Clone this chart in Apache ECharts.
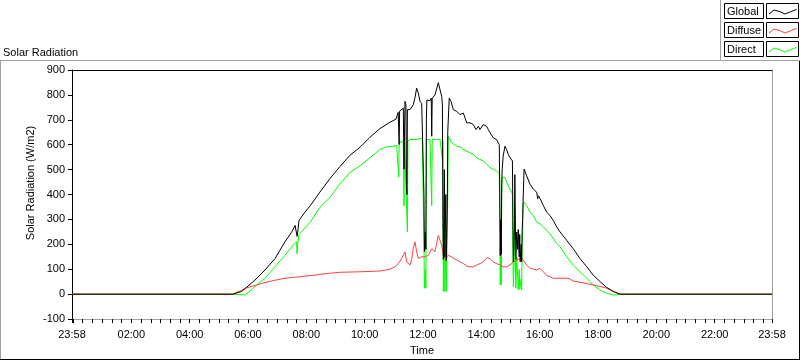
<!DOCTYPE html>
<html><head><meta charset="utf-8">
<script src="https://cdn.jsdelivr.net/npm/echarts@6/dist/echarts.min.js"></script>
<style>html,body{margin:0;padding:0;background:#fff}#c{width:800px;height:361px}</style>
</head><body><div id="c"></div>
<script>
// ---- data (time in minutes since midnight, value in W/m2) ----
const chartTitle = 'Solar Radiation';
const yAxisTitle = 'Solar Radiation (W/m2)';
const xAxisTitle = 'Time';
const seriesNames = ['Global', 'Diffuse', 'Direct'];
const seriesColors = ['#000000', '#ff4040', '#00ff00'];
const xLabelMinutes = [-2, 120, 240, 360, 480, 600, 720, 840, 960, 1080, 1200, 1320, 1438];
const yMin = -100, yMax = 900, yStep = 100;

const globalTime = [-2,329,347,355,374.5,395,415.6,436,450,457,460,461,463,465,467,477,488,498,508,529,549,570,590.5,611,631.6,652,664.6,669,670,671,672,676,679.5,681,683,685,686,687,688,690,693.3,700,703.6,707,710,714,717.4,720,722,723,725,726,727,728,731,734.4,737,738,739,744.7,748,751.5,755,758.5,760,761,762,764,765,767,768,770,771,774,777.6,782.4,789.4,796,803,806.4,810,816.7,823.5,829,834,837.3,844,851,854.5,858,864.5,871.4,874.7,877,878,879,880,881,882,883,885,888.7,892,895.5,899,902.5,904,905,906,908,909,910,911,913,915,916,918,919,920,922,923,924,925,926,928,929,933.4,940,947,954,956,957.5,960.7,967.6,974.5,981.3,988,995,1002,1015.7,1029,1043,1057,1070,1084,1098,1111.5,1125,1438];
const globalVal = [0,0,11,24,57,97,143,210,250,276,270,232,260,296,303,329,355,382,410,465,512,558,590,630,665,690,703,730,730,601,735,741,747,502,774,760,435,400,741,741,741,760,790,827,810,774,765,760,400,171,250,180,700,780,780,776,787,634,787,800,807,849,845,794,760,300,140,500,150,400,135,350,650,787,774,741,734,721,727,708,688,688,681,661,674,661,681,674,661,648,628,621,614,600,400,155,300,160,450,500,555,594,581,561,548,541,535,300,130,250,480,300,140,250,180,260,150,240,130,200,130,250,300,382,502,508,475,442,422,409,382,395,385,356,329,316,296,270,250,216,183,143,110,77,51,27,11,0,0];

const diffuseTime = [-2,329,345,355,374.5,395,415.6,436,455.5,467,477,498,508,549,590.5,631.6,652,662.4,670.7,672.7,676,679.5,683,686.5,690,693.3,697,700,703.6,707,710.5,714,717.4,721,724,727.7,731,734.4,738,741.6,744.7,748,751.5,755,758.5,762,765.3,769,772,775.6,779,782.4,789.4,796,803,810,816.7,823.5,830.5,837.3,844,851,854.5,858,864.5,871.4,878.4,885,892,899,906,912.8,919.6,926.4,933.4,940,947,954,960.7,967.6,974.5,981.3,988,1002,1015.7,1022.4,1029,1043,1063.6,1084,1098,1111.5,1125,1438];
const diffuseVal = [0,0,14,24,35,47,56,64,68,70,73,76,80,88,90,93,100,110,126,123,143,143,170,130,123,117,143,183,210,170,143,137,150,143,150,143,156,163,183,176,170,203,236,216,196,156,143,150,156,163,150,143,137,130,123,112,110,110,117,123,130,146,150,143,130,123,117,110,110,117,130,137,143,137,117,104,101,97,104,90,75,70,64,64,64,61,53,48,40,31,24,11,0,0];

const directTime = [-2,329,333,355,357,374.5,395,415.6,436,455.5,460,461,462,465,467,488,508,529,549,570,590.5,611,631.6,645.5,652,666,669,670,671,672.7,679.5,681,682,686,688,689,690,693.3,700,707,714,718.6,721,722,723,725,726,727,727.7,731,734.4,737,738,739,741.6,748,755,758.5,759,760,761,762,764,765,767,768,770,771,772,775.6,779,782.4,789.4,796,803,806.4,816.7,823.5,827,830.5,837.3,844,851,858,864.5,871.4,874.7,877,878,879,880,881,882,883,885,888.7,892,899,902.5,904,905,906,908,909,910,911,913,915,916,918,919,920,922,923,924,925,926,928,933.4,940,947,954,960.7,967.6,974.5,981.3,995,1002,1015.7,1029,1043,1057,1070,1084,1098,1111.5,1118,1125,1438];
const directVal = [0,0,-3,-3,4,31,64,110,156,203,210,163,200,240,232,289,349,389,442,489,515,548,581,592,592,597,597,470,600,610,614,354,614,614,250,614,614,621,621,621,624,628,628,200,24,100,24,620,628,614,621,621,356,621,621,621,621,614,614,540,614,11,300,11,200,11,11,400,634,621,608,601,594,592,581,575,568,561,555,548,541,535,521,508,502,495,489,485,300,37,200,37,400,470,462,469,449,422,409,400,150,30,150,350,150,24,150,60,17,100,20,17,60,17,200,250,350,370,356,329,316,289,283,270,256,243,203,190,150,117,90,64,37,17,4,-3,-3,0,0];

// ---- chart ----
const FONT = 'Liberation Sans';
function pairs(t, v) { return t.map((x, i) => [x, v[i]]); }
function fmtTime(v) {
  if (v === -2 || v === 1438) return '23:58';
  const h = Math.floor(v / 60), m = v % 60;
  return String(h).padStart(2, '0') + ':' + String(m).padStart(2, '0');
}
const tickMinutes = [-2];
for (let m = 0; m <= 1420; m += 20) tickMinutes.push(m);
tickMinutes.push(1438);

const seriesData = [pairs(globalTime, globalVal), pairs(diffuseTime, diffuseVal), pairs(directTime, directVal)];
const drawOrder = [2, 1, 0];

const legendGraphics = [];
seriesNames.forEach((name, i) => {
  const y = 3 + 19 * i;
  legendGraphics.push({type: 'rect', shape: {x: 724.5, y: y + 0.5, width: 39, height: 15},
    style: {fill: '#fff', stroke: '#000', lineWidth: 1}, z: 10});
  legendGraphics.push({type: 'text', x: 727, y: y + 8.5,
    style: {text: name, fill: '#000', font: '11px "' + FONT + '"', verticalAlign: 'middle', align: 'left'}, z: 11});
  legendGraphics.push({type: 'rect', shape: {x: 766.5, y: y + 0.5, width: 32, height: 15},
    style: {fill: '#fff', stroke: '#000', lineWidth: 1}, z: 10});
  legendGraphics.push({type: 'polyline', shape: {points: [[769, y + 11], [774, y + 7], [780, y + 8.7], [785, y + 11], [790.7, y + 8.7], [796.7, y + 6.3]]},
    style: {stroke: seriesColors[i], lineWidth: 1, fill: null}, z: 11});
});

const chart = echarts.init(document.getElementById('c'), null, {renderer: 'canvas'});
chart.setOption({
  animation: false,
  backgroundColor: '#ffffff',
  textStyle: {fontFamily: FONT},
  title: {text: chartTitle, left: 3, top: 47, padding: 0,
    textStyle: {fontSize: 11, fontWeight: 'normal', color: '#000', fontFamily: FONT}},
  grid: {left: 72, top: 70, width: 700, height: 252, containLabel: false},
  xAxis: [{
    type: 'value', min: -2, max: 1438, position: 'bottom',
    axisLine: {show: true, onZero: false, lineStyle: {color: '#a0a0a0', width: 1}},
    axisTick: {show: true, customValues: tickMinutes, length: 4, lineStyle: {color: '#000'}},
    axisLabel: {show: true, customValues: xLabelMinutes, formatter: fmtTime, color: '#000', fontSize: 11, fontFamily: FONT, margin: 10},
    splitLine: {show: false},
    name: xAxisTitle, nameLocation: 'middle', nameGap: 25,
    nameTextStyle: {color: '#000', fontSize: 11, fontFamily: FONT}
  }, {
    type: 'value', min: -2, max: 1438, position: 'top',
    axisLine: {show: true, onZero: false, lineStyle: {color: '#000', width: 1}},
    axisTick: {show: false}, axisLabel: {show: false}, splitLine: {show: false}
  }],
  yAxis: [{
    type: 'value', min: yMin, max: yMax, interval: yStep, position: 'left',
    axisLine: {show: true, onZero: false, lineStyle: {color: '#000', width: 1}},
    axisTick: {show: true, length: 4, lineStyle: {color: '#000'}},
    axisLabel: {color: '#000', fontSize: 11, fontFamily: FONT, margin: 7},
    splitLine: {show: false}
  }, {
    type: 'value', min: yMin, max: yMax, interval: yStep, position: 'right',
    axisLine: {show: true, onZero: false, lineStyle: {color: '#a0a0a0', width: 1}},
    axisTick: {show: false}, axisLabel: {show: false}, splitLine: {show: false}
  }],
  series: drawOrder.map(i => ({
    name: seriesNames[i], type: 'line', data: seriesData[i],
    xAxisIndex: 0, yAxisIndex: 0,
    showSymbol: false, symbol: 'none', smooth: false,
    lineStyle: {color: seriesColors[i], width: 1},
    itemStyle: {color: seriesColors[i]},
    emphasis: {disabled: true}
  })),
  graphic: [
    {type: 'line', shape: {x1: 0, y1: 60.5, x2: 800, y2: 60.5}, style: {stroke: '#a0a0a0', lineWidth: 1}},
    {type: 'line', shape: {x1: 0.5, y1: 61, x2: 0.5, y2: 360}, style: {stroke: '#a0a0a0', lineWidth: 1}},
    {type: 'line', shape: {x1: 0, y1: 359.5, x2: 800, y2: 359.5}, style: {stroke: '#000', lineWidth: 1}},
    {type: 'line', shape: {x1: 799.5, y1: 61, x2: 799.5, y2: 360}, style: {stroke: '#000', lineWidth: 1}},
    {type: 'line', shape: {x1: 720.5, y1: 0, x2: 720.5, y2: 61}, style: {stroke: '#a0a0a0', lineWidth: 1}},
    {type: 'text', x: 31, y: 183, rotation: Math.PI / 2,
      style: {text: yAxisTitle, fill: '#000', font: '11px "' + FONT + '"', align: 'center', verticalAlign: 'middle'}}
  ].concat(legendGraphics)
});
</script>
</body></html>
